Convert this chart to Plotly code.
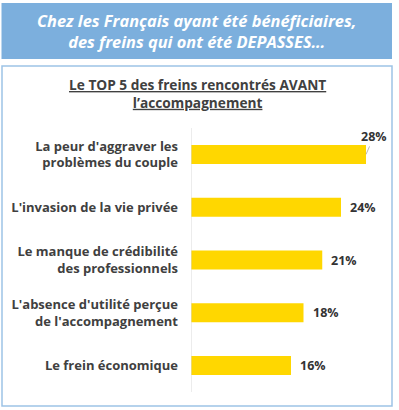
import plotly.graph_objects as go

categories = [
    "La peur d'aggraver les<br>problèmes du couple",
    "L'invasion de la vie privée",
    "Le manque de crédibilité<br>des professionnels",
    "L'absence d'utilité perçue<br>de l'accompagnement",
    "Le frein économique",
]
values = [28, 24, 21, 18, 16]
value_labels = ["28%", "24%", "21%", "18%", "16%"]
header_text = "Chez les Français ayant été bénéficiaires,<br>des freins qui ont été DEPASSES…"
chart_title = "Le TOP 5 des freins rencontrés AVANT<br>l’accompagnement"

W, H = 399, 410
L, R, T, B = 191, 8, 128, 18
PW, PH = W - L - R, H - T - B

def px(x):
    return (x - L) / PW

def py(y):
    return (H - B - y) / PH

FONT = "Open Sans"
TXT = "#404040"

fig = go.Figure()
fig.add_trace(go.Bar(
    x=values, y=categories, orientation="h",
    marker=dict(color="#FFD700", line=dict(width=0)),
    width=0.36, hoverinfo="skip",
))

annotations = []
for i, (v, c, lab) in enumerate(zip(values, categories, value_labels)):
    if i == 0:
        annotations.append(dict(
            x=v, y=c, xref="x", yref="y", text="<b>" + lab + "</b>",
            showarrow=True, arrowhead=0, arrowwidth=0.8, arrowcolor="#a6a6a6",
            ax=8, ay=-18, xanchor="center", yanchor="middle",
            font=dict(family=FONT, size=12.5, color="#333333"),
            standoff=0, startstandoff=0,
        ))
    else:
        annotations.append(dict(
            x=v, y=c, xref="x", yref="y", text="<b>" + lab + "</b>",
            showarrow=False, xanchor="left", xshift=7,
            font=dict(family=FONT, size=12.5, color="#333333"),
        ))

annotations.append(dict(
    x=px(196), y=py(31), xref="paper", yref="paper",
    text="<b><i>" + header_text + "</i></b>", showarrow=False,
    font=dict(family=FONT, size=16.4, color="white"),
    xanchor="center", yanchor="middle", align="center",
))
annotations.append(dict(
    x=px(197), y=py(94), xref="paper", yref="paper",
    text="<b><u>" + chart_title.replace("<br>", "</u><br><u>") + "</u></b>", showarrow=False,
    font=dict(family=FONT, size=13.7, color=TXT),
    xanchor="center", yanchor="middle", align="center",
))

shapes = [
    dict(type="rect", xref="paper", yref="paper",
         x0=px(1.5), x1=px(392), y0=py(59), y1=py(3),
         fillcolor="#7CAFDD", line=dict(width=0), layer="below"),
    dict(type="rect", xref="paper", yref="paper",
         x0=px(2), x1=px(392), y0=py(406), y1=py(66),
         fillcolor="rgba(0,0,0,0)", line=dict(color="#9DC3E6", width=1.5), layer="below"),
    dict(type="line", xref="x", yref="paper", x0=0, x1=0, y0=0, y1=1,
         line=dict(color="#D9D9D9", width=1)),
]

fig.update_layout(
    width=W, height=H,
    margin=dict(l=L, r=R, t=T, b=B),
    paper_bgcolor="white", plot_bgcolor="white",
    showlegend=False,
    annotations=annotations, shapes=shapes,
    xaxis=dict(range=[0, PW / 6.25], visible=False, fixedrange=True),
    yaxis=dict(
        range=[4.5, -0.5], showgrid=False, zeroline=False,
        showline=False, ticks="", ticklabelstandoff=12,
        tickvals=categories, ticktext=["<b>" + c + "</b>" for c in categories],
        tickfont=dict(family=FONT, size=13, color=TXT),
        fixedrange=True,
    ),
)

fig.write_html(
    "out.html",
    config={"displayModeBar": False},
    post_script="document.body.style.margin='0';document.body.style.overflow='hidden';",
)
